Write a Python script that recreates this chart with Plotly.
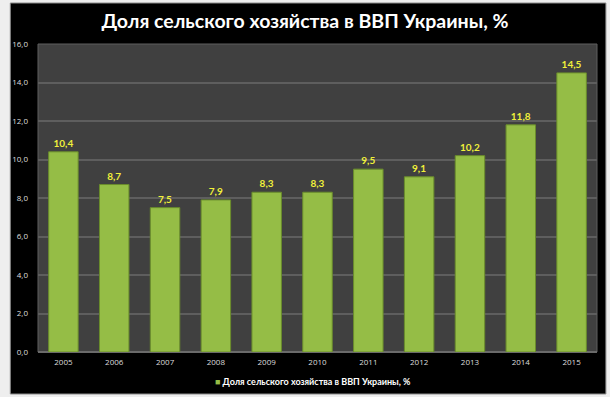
import plotly.graph_objects as go

years = ["2005", "2006", "2007", "2008", "2009", "2010", "2011", "2012", "2013", "2014", "2015"]
share = [10.4, 8.7, 7.5, 7.9, 8.3, 8.3, 9.5, 9.1, 10.2, 11.8, 14.5]
series_name = "Доля сельского хозяйства в ВВП Украины, %"
title_text = "Доля сельского хозяйства в ВВП Украины, %"

W, H = 610, 397
L, R, T, B = 32, 13, 44, 45
pw, ph = W - L - R, H - T - B
BAR = "#95bd46"

def px_to_paper_x(x):
    return (x - L) / pw

def px_to_paper_y(y):
    return (H - B - y) / ph

fig = go.Figure()
fig.add_trace(go.Bar(
    x=years, y=share, name=series_name, showlegend=False,
    marker=dict(color=BAR, line=dict(color="#6a8c2c", width=1)),
    texttemplate="%{y:.1f}", textposition="outside",
    textfont=dict(family="Lato", size=10, color="#f0f03a", weight="bold"),
    cliponaxis=False,
))

shapes = [
    dict(type="rect", xref="paper", yref="paper",
         x0=px_to_paper_x(4), x1=px_to_paper_x(606),
         y0=px_to_paper_y(394), y1=px_to_paper_y(3),
         fillcolor="#000000", line=dict(color="#8a8a8a", width=1), layer="below"),
    dict(type="rect", xref="paper", yref="paper", x0=0, x1=1, y0=0, y1=1,
         fillcolor="#404040", line=dict(color="#5e5e5e", width=1), layer="below"),
]

annotations = [
    dict(xref="paper", yref="paper", x=px_to_paper_x(310), y=px_to_paper_y(381),
         xanchor="center", yanchor="middle", showarrow=False,
         text=f"<span style='color:{BAR}'>■</span> {series_name}",
         font=dict(family="Lato", size=9, color="#ffffff", weight="bold")),
]

fig.update_layout(
    width=W, height=H,
    margin=dict(l=L, r=R, t=T, b=B, pad=0),
    paper_bgcolor="#eeeeee",
    plot_bgcolor="rgba(0,0,0,0)",
    separators=", ",
    shapes=shapes,
    annotations=annotations,
    bargap=0.42,
    showlegend=False,
    title=dict(text=title_text, x=0.5, xref="container", xanchor="center",
               y=1 - 21 / H, yanchor="middle",
               font=dict(family="Lato", size=19.5, color="#ffffff", weight="bold")),
    xaxis=dict(showgrid=False, showline=False, zeroline=False,
               tickfont=dict(family="Open Sans", size=8, color="#dddddd"),
               ticks="", ticklabelstandoff=4),
    yaxis=dict(range=[0, 16], dtick=2, tickformat=".1f",
               showgrid=True, gridcolor="#5e5e5e", gridwidth=1.5,
               zeroline=True, zerolinecolor="#6a6a6a", zerolinewidth=1.5,
               showline=False, ticks="",
               tickfont=dict(family="Open Sans", size=8, color="#dddddd"),
               ticklabelstandoff=9),
)

fig.write_html("out.html", config={"displayModeBar": False},
               post_script="document.body.style.margin='0';document.body.style.overflow='hidden';")
